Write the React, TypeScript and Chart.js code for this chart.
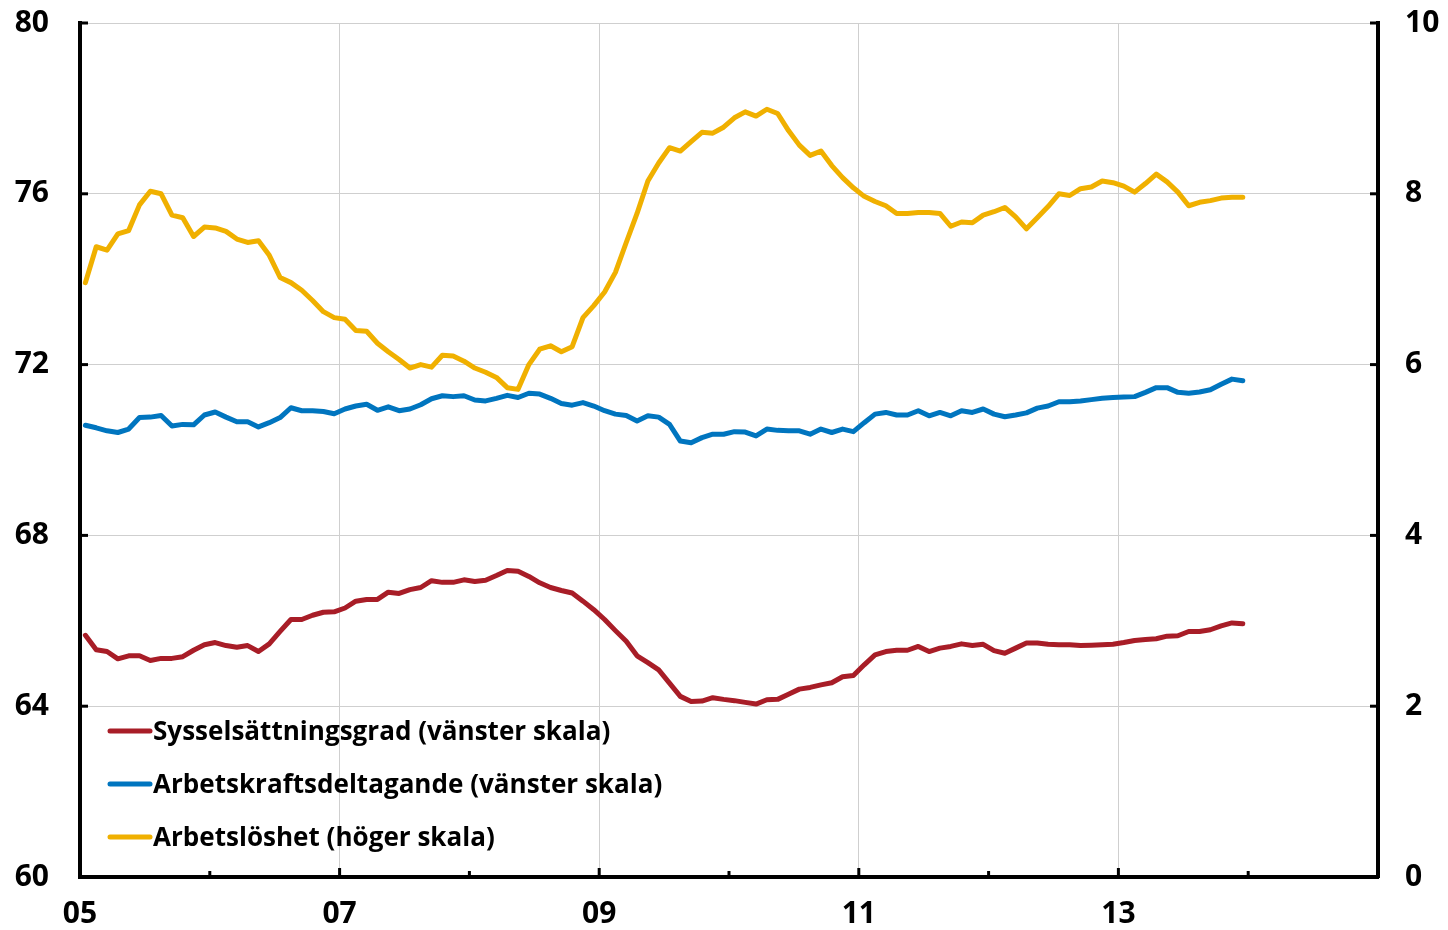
import React, { useEffect, useRef } from "react";
import { Chart, registerables } from "chart.js";

Chart.register(...registerables);

// X axis: months since Jan 2005, ticks every 12 months
const X_TICK_LABELS = ["05", "", "07", "", "09", "", "11", "", "13", "", ""];
const MONTHS_PER_TICK = 12;

const SERIES_LABELS = [
  "Sysselsättningsgrad (vänster skala)",
  "Arbetskraftsdeltagande (vänster skala)",
  "Arbetslöshet (höger skala)",
];
const SERIES_COLORS = ["#A81D27", "#0075BF", "#F0B000"];

// Sysselsättningsgrad, left scale, monthly Jan 2005 - Dec 2013
const EMPLOYMENT = [
  65.66, 65.32, 65.28, 65.11, 65.18, 65.18, 65.07, 65.12, 65.12, 65.16, 65.31, 65.44,
  65.49, 65.42, 65.38, 65.42, 65.28, 65.46, 65.75, 66.03, 66.03, 66.13, 66.2, 66.21,
  66.3, 66.46, 66.5, 66.5, 66.67, 66.64, 66.73, 66.78, 66.94, 66.9, 66.9, 66.96,
  66.92, 66.95, 67.06, 67.18, 67.16, 67.04, 66.89, 66.78, 66.71, 66.65, 66.46, 66.26,
  66.03, 65.77, 65.52, 65.18, 65.02, 64.85, 64.54, 64.23, 64.11, 64.12, 64.2, 64.16,
  64.13, 64.09, 64.05, 64.15, 64.16, 64.28, 64.4, 64.44, 64.5, 64.55, 64.69, 64.72,
  64.97, 65.2, 65.28, 65.31, 65.31, 65.4, 65.28, 65.36, 65.4, 65.46, 65.42, 65.45,
  65.3, 65.24, 65.36, 65.48, 65.48, 65.45, 65.44, 65.44, 65.42, 65.43, 65.44, 65.45,
  65.49, 65.54, 65.56, 65.58, 65.64, 65.65, 65.75, 65.75, 65.79, 65.88, 65.95, 65.93,
];

// Arbetskraftsdeltagande, left scale
const PARTICIPATION = [
  70.58, 70.52, 70.45, 70.41, 70.49, 70.76, 70.77, 70.81, 70.56, 70.6, 70.59, 70.82,
  70.89, 70.77, 70.66, 70.66, 70.54, 70.64, 70.76, 70.99, 70.92, 70.92, 70.9, 70.85,
  70.96, 71.03, 71.07, 70.93, 71.01, 70.92, 70.96, 71.06, 71.2, 71.27, 71.25, 71.27,
  71.17, 71.15, 71.21, 71.28, 71.23, 71.33, 71.31, 71.21, 71.09, 71.05, 71.11, 71.03,
  70.92, 70.84, 70.81, 70.68, 70.8, 70.77, 70.6, 70.21, 70.17, 70.29, 70.37, 70.37,
  70.43, 70.42, 70.33, 70.49, 70.46, 70.45, 70.45, 70.37, 70.49, 70.41, 70.49, 70.43,
  70.64, 70.84, 70.88, 70.82, 70.82, 70.92, 70.8, 70.88, 70.8, 70.92, 70.88, 70.96,
  70.84, 70.78, 70.82, 70.87, 70.98, 71.03, 71.13, 71.13, 71.15, 71.18, 71.21, 71.23,
  71.24, 71.25, 71.35, 71.46, 71.46, 71.35, 71.33, 71.36, 71.41, 71.54, 71.66, 71.62,
];

// Arbetslöshet, right scale
const UNEMPLOYMENT = [
  6.96, 7.38, 7.34, 7.53, 7.57, 7.87, 8.03, 8.0, 7.75, 7.72, 7.5, 7.61,
  7.6, 7.56, 7.47, 7.43, 7.45, 7.28, 7.02, 6.96, 6.87, 6.75, 6.62, 6.55,
  6.53, 6.4, 6.39, 6.25, 6.15, 6.06, 5.96, 6.0, 5.97, 6.11, 6.1, 6.04,
  5.96, 5.91, 5.85, 5.73, 5.71, 6.0, 6.18, 6.22, 6.15, 6.21, 6.55, 6.69,
  6.85, 7.08, 7.43, 7.77, 8.15, 8.36, 8.54, 8.5, 8.61, 8.72, 8.71, 8.78,
  8.89, 8.96, 8.91, 8.99, 8.94, 8.74, 8.57, 8.45, 8.5, 8.33, 8.19, 8.07,
  7.97, 7.91, 7.86, 7.77, 7.77, 7.78, 7.78, 7.77, 7.62, 7.67, 7.66, 7.75,
  7.79, 7.84, 7.73, 7.59, 7.72, 7.85, 8.0, 7.98, 8.06, 8.08, 8.15, 8.13,
  8.09, 8.02, 8.12, 8.23, 8.14, 8.02, 7.86, 7.9, 7.92, 7.95, 7.96, 7.96,
];

const LEFT_MIN = 60;
const LEFT_MAX = 80;
const LEFT_STEP = 4;
const RIGHT_MIN = 0;
const RIGHT_MAX = 10;
const RIGHT_STEP = 2;

const FONT_FAMILY = "'Open Sans', 'Noto Sans', sans-serif";
const W = 1448;
const H = 930;

const toPoints = (vals: number[]) => vals.map((v, i) => ({ x: i + 0.5, y: v }));

const innerTicksPlugin = {
  id: "innerTicks",
  afterDraw(chart: any) {
    const { ctx, chartArea, scales } = chart;
    const { left, right, bottom } = chartArea;
    ctx.save();
    ctx.strokeStyle = "#000";
    ctx.lineWidth = 3;
    ctx.lineCap = "butt";
    const line = (x1: number, y1: number, x2: number, y2: number) => {
      ctx.beginPath();
      ctx.moveTo(x1, y1);
      ctx.lineTo(x2, y2);
      ctx.stroke();
    };
    scales.y.ticks.forEach((t: any) => {
      const y = scales.y.getPixelForValue(t.value);
      line(left, y, left + 8, y);
    });
    scales.y2.ticks.forEach((t: any) => {
      const y = scales.y2.getPixelForValue(t.value);
      line(right - 8, y, right, y);
    });
    scales.x.ticks.forEach((t: any, idx: number) => {
      const x = scales.x.getPixelForValue(t.value);
      const len = X_TICK_LABELS[idx] ? 9 : 6;
      line(x, bottom, x, bottom - len);
    });
    ctx.restore();
  },
};

const legendPlugin = {
  id: "insideLegend",
  afterDraw(chart: any) {
    const { ctx, chartArea } = chart;
    const { left, bottom } = chartArea;
    const ds = chart.data.datasets;
    ctx.save();
    ctx.font = `bold 27px ${FONT_FAMILY}`;
    ctx.textBaseline = "middle";
    ctx.textAlign = "left";
    ds.forEach((d: any, i: number) => {
      const y = bottom - 40 - (ds.length - 1 - i) * 53;
      ctx.strokeStyle = d.borderColor;
      ctx.lineWidth = 5;
      ctx.lineCap = "round";
      ctx.beginPath();
      ctx.moveTo(left + 30, y);
      ctx.lineTo(left + 70, y);
      ctx.stroke();
      ctx.fillStyle = "#000";
      ctx.save();
      ctx.translate(left + 73, y + 1);
      ctx.scale(0.965, 1);
      ctx.fillText(d.label, 0, 0);
      ctx.restore();
    });
    ctx.restore();
  },
};

export default function App() {
  const canvasRef = useRef<HTMLCanvasElement | null>(null);

  useEffect(() => {
    if (!canvasRef.current) return;
    const tickFont = { family: FONT_FAMILY, size: 30, weight: "bold" as const };
    const zeroVPad = (s: any) => {
      s.paddingTop = 0;
      s.paddingBottom = 0;
    };
    const chart = new Chart(canvasRef.current, {
      type: "line",
      data: {
        datasets: [
          {
            label: SERIES_LABELS[0],
            data: toPoints(EMPLOYMENT),
            borderColor: SERIES_COLORS[0],
            yAxisID: "y",
          },
          {
            label: SERIES_LABELS[1],
            data: toPoints(PARTICIPATION),
            borderColor: SERIES_COLORS[1],
            yAxisID: "y",
          },
          {
            label: SERIES_LABELS[2],
            data: toPoints(UNEMPLOYMENT),
            borderColor: SERIES_COLORS[2],
            yAxisID: "y2",
          },
        ].map((d) => ({
          ...d,
          borderWidth: 5,
          pointRadius: 0,
          tension: 0,
          fill: false,
          borderJoinStyle: "round" as const,
          borderCapStyle: "round" as const,
        })),
      },
      options: {
        responsive: false,
        animation: false,
        devicePixelRatio: 1,
        layout: { padding: { top: 23, left: 0, right: 0, bottom: 0 } },
        plugins: {
          legend: { display: false },
          tooltip: { enabled: false },
          title: { display: false },
        },
        scales: {
          x: {
            type: "linear",
            min: 0,
            max: (X_TICK_LABELS.length - 1) * MONTHS_PER_TICK,
            afterFit: (s: any) => {
              s.height = 53;
              s.paddingLeft = 0;
              s.paddingRight = 0;
            },
            ticks: {
              stepSize: MONTHS_PER_TICK,
              autoSkip: false,
              maxRotation: 0,
              padding: 19,
              color: "#000",
              font: tickFont,
              callback: (v: any) => X_TICK_LABELS[Math.round(Number(v) / MONTHS_PER_TICK)] ?? "",
            },
            grid: {
              drawTicks: false,
              lineWidth: 1,
              color: (c: any) => {
                const idx = Math.round(c.tick.value / MONTHS_PER_TICK);
                return X_TICK_LABELS[idx] && idx > 0 ? "#cfcfcf" : "rgba(0,0,0,0)";
              },
            },
            border: { display: true, color: "#000", width: 4 },
          },
          y: {
            type: "linear",
            position: "left",
            min: LEFT_MIN,
            max: LEFT_MAX,
            afterFit: (s: any) => {
              s.width = 80;
              zeroVPad(s);
            },
            ticks: {
              stepSize: LEFT_STEP,
              padding: 31,
              color: "#000",
              font: tickFont,
            },
            grid: {
              drawTicks: false,
              lineWidth: 1,
              color: (c: any) => (c.tick.value === LEFT_MIN ? "rgba(0,0,0,0)" : "#cfcfcf"),
            },
            border: { display: true, color: "#000", width: 4 },
          },
          y2: {
            type: "linear",
            position: "right",
            min: RIGHT_MIN,
            max: RIGHT_MAX,
            afterFit: (s: any) => {
              s.width = 70;
              zeroVPad(s);
            },
            ticks: {
              stepSize: RIGHT_STEP,
              padding: 27,
              color: "#000",
              font: tickFont,
            },
            grid: { display: false, drawTicks: false },
            border: { display: true, color: "#000", width: 4 },
          },
        },
      },
      plugins: [innerTicksPlugin, legendPlugin],
    });
    return () => chart.destroy();
  }, []);

  return (
    <div style={{ position: "absolute", left: 0, top: 0, width: W, height: H, background: "#fff" }}>
      <canvas ref={canvasRef} width={W} height={H} style={{ display: "block" }} />
    </div>
  );
}
